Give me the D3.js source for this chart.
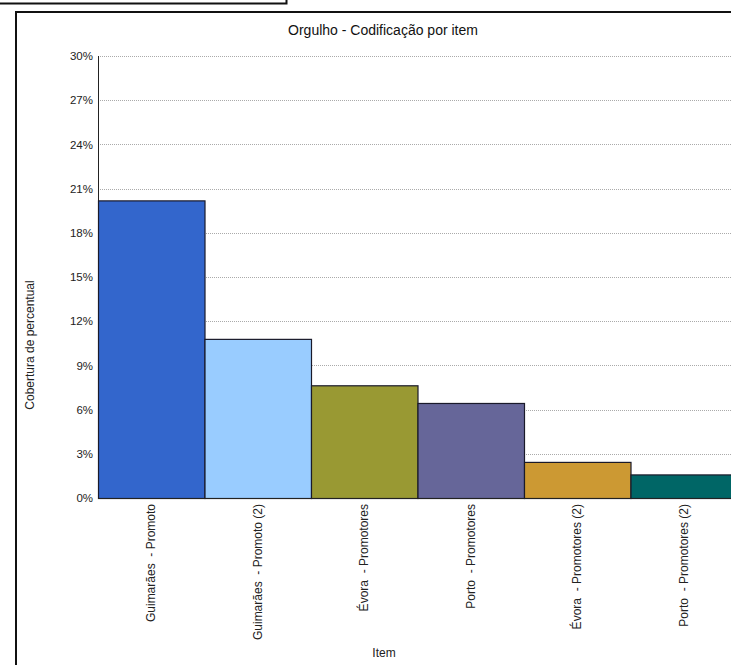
<!DOCTYPE html>
<html><head><meta charset="utf-8">
<script src="https://cdn.jsdelivr.net/npm/d3@7"></script>
<style>body{margin:0;background:#fff;overflow:hidden}svg{display:block}text{white-space:pre}</style>
</head><body>
<script>
const categories = ["Guimarães  - Promoto","Guimarães  - Promoto (2)","Évora  - Promotores","Porto  - Promotores","Évora  - Promotores (2)","Porto  - Promotores (2)"];
const values = [20.2, 10.8, 7.65, 6.45, 2.45, 1.6];
const colors = ["#3366cc","#99ccff","#999933","#666699","#cc9933","#006666"];
const yTicks = [0,3,6,9,12,15,18,21,24,27,30];
const title = "Orgulho - Codificação por item";
const yTitle = "Cobertura de percentual";
const xTitle = "Item";

const W = 731, H = 665;
const svg = d3.select("body").append("svg").attr("width", W).attr("height", H);
const font = "Arial, 'Liberation Sans', sans-serif";

// top-left box remnant
svg.append("path").attr("d","M0,3.5H286.5V0").attr("fill","none").attr("stroke","#111").attr("stroke-width",2);
// outer frame
svg.append("path").attr("d","M16,665V12H740").attr("fill","none").attr("stroke","#111").attr("stroke-width",2);

const x = d3.scaleBand().domain(categories).range([98, 737]).padding(0);
const y = d3.scaleLinear().domain([0, 30]).range([498, 56]);

// gridlines
svg.append("g").selectAll("line").data(yTicks.filter(d=>d>0)).join("line")
  .attr("x1", 98).attr("x2", 740)
  .attr("y1", d=>Math.round(y(d))+0.5).attr("y2", d=>Math.round(y(d))+0.5)
  .attr("stroke", "#aaa").attr("stroke-width", 1).attr("stroke-dasharray", "1,1");

// y axis
const yAxis = d3.axisLeft(y).tickValues(yTicks).tickFormat(d=>d+"%").tickSize(0).tickPadding(5);
const gy = svg.append("g").attr("transform","translate(98,0)").call(yAxis);
gy.select(".domain").attr("stroke","#222").attr("d","M0.5,56V498.5");
gy.selectAll("text").attr("font-family",font).attr("font-size",11.5).attr("fill","#222");

// bars
svg.append("g").selectAll("rect").data(values).join("rect")
  .attr("x", (d,i)=>x(categories[i])+0.5)
  .attr("y", d=>y(d)+0.5)
  .attr("width", x.bandwidth())
  .attr("height", d=>y(0)-y(d))
  .attr("fill", (d,i)=>colors[i])
  .attr("stroke", "#1a1a2a").attr("stroke-width", 1.2);

// x axis
const xAxis = d3.axisBottom(x).tickSize(0).tickPadding(0);
const gx = svg.append("g").attr("transform","translate(0,498)").call(xAxis);
gx.select(".domain").attr("stroke","#222").attr("d","M98,0.5H740");
gx.selectAll("text")
  .attr("font-family",font).attr("font-size",12).attr("fill","#222")
  .attr("text-anchor","end").attr("dy",null)
  .attr("transform","translate(4,6) rotate(-90)").attr("x",0).attr("y",0);

// titles
svg.append("text").attr("x",383).attr("y",35).attr("text-anchor","middle")
  .attr("font-family",font).attr("font-size",14).attr("fill","#111").text(title);
svg.append("text").attr("transform","translate(34,345) rotate(-90)").attr("text-anchor","middle")
  .attr("font-family",font).attr("font-size",12).attr("fill","#222").text(yTitle);
svg.append("text").attr("x",384).attr("y",657).attr("text-anchor","middle")
  .attr("font-family",font).attr("font-size",12).attr("fill","#222").text(xTitle);
</script>
</body></html>
